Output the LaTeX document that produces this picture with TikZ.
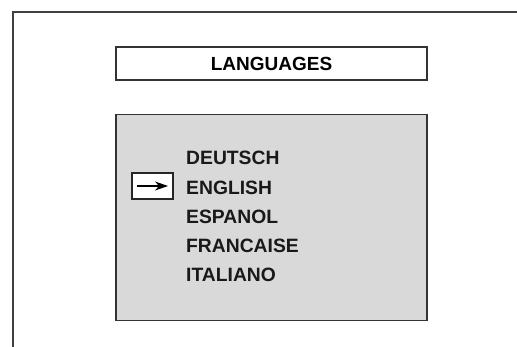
\documentclass[tikz,border=0pt]{standalone}
\usepackage{fontspec}
\setmainfont{Liberation Sans}
\usetikzlibrary{arrows.meta}
\begin{document}
\begin{tikzpicture}[x=1pt,y=-1pt,
  frame/.style={draw=black!75,line width=1.2pt},
  titlebox/.style={draw=black!80,line width=1.4pt,minimum width=311pt,minimum height=33pt,inner sep=0pt,font=\fontsize{19}{19}\selectfont\bfseries},
  panel/.style={draw=black!80,line width=1.4pt,fill=black!15,minimum width=311pt,minimum height=206pt,inner sep=0pt},
  item/.style={anchor=west,inner sep=0pt,font=\fontsize{19.3}{19}\selectfont\bfseries,text=black!90},
  cursor/.style={draw=black!85,line width=1.4pt,fill=white,minimum width=41pt,minimum height=26pt,inner sep=0pt}]
\useasboundingbox (0,0) rectangle (517,347);
\coordinate (tl) at (13,12);
\coordinate (tr) at (517,12);
\coordinate (bl) at (13,347);
\draw[frame] (bl) -- (tl) -- (tr);
\node[titlebox] (title) at (271.5,63.5) {LANGUAGES};
\node[panel] (panel) at (271.5,217.5) {};
\node[item] (de) at (186,158) {DEUTSCH};
\node[item] (en) at (186,187.5) {ENGLISH};
\node[item] (es) at (186,217) {ESPANOL};
\node[item] (fr) at (186,246) {FRANCAISE};
\node[item] (it) at (186,275) {ITALIANO};
\node[cursor] (cur) at (152.5,186) {};
\coordinate (a1) at (137,186);
\coordinate (a2) at (168,186);
\draw[line width=1.3pt,-{Stealth[length=13pt,width=9pt,inset=4pt]}] (a1) -- (a2);
\end{tikzpicture}
\end{document}
